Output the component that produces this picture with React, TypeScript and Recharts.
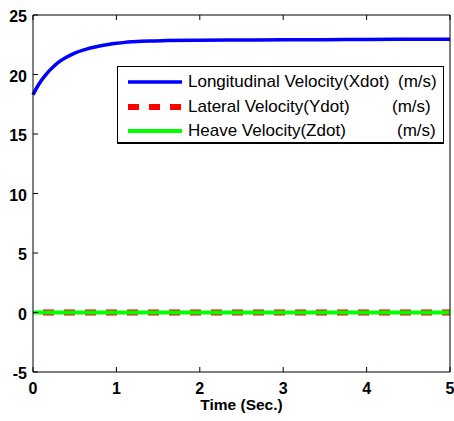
import React from 'react';
import { LineChart, Line, XAxis, YAxis, Legend } from 'recharts';

// ---- data ----
const TIME = [0, 0.05, 0.1, 0.15, 0.2, 0.25, 0.3, 0.4, 0.5, 0.6, 0.7, 0.8, 0.9, 1.0, 1.1, 1.2, 1.4, 1.6, 2.0, 2.5, 3.0, 3.5, 4.0, 4.5, 5.0];
const XDOT = [18.3, 18.95, 19.5, 19.95, 20.35, 20.7, 21.0, 21.45, 21.8, 22.05, 22.25, 22.4, 22.52, 22.62, 22.7, 22.75, 22.82, 22.85, 22.88, 22.9, 22.92, 22.93, 22.95, 22.96, 22.97];
const YDOT = [0, 0, 0, 0, 0, 0, 0, 0, 0, 0, 0, 0, 0, 0, 0, 0, 0, 0, 0, 0, 0, 0, 0, 0, 0];
const ZDOT = [0, 0, 0, 0, 0, 0, 0, 0, 0, 0, 0, 0, 0, 0, 0, 0, 0, 0, 0, 0, 0, 0, 0, 0, 0];
const X_TICKS = [0, 1, 2, 3, 4, 5];
const Y_TICKS = [-5, 0, 5, 10, 15, 20, 25];
const SERIES_NAMES = ['Longitudinal Velocity(Xdot)', 'Lateral Velocity(Ydot)', 'Heave Velocity(Zdot)'];
const SERIES_UNITS = ['(m/s)', '(m/s)', '(m/s)'];
const X_LABEL = 'Time (Sec.)';

const data = TIME.map((t, i) => ({ t, xdot: XDOT[i], ydot: YDOT[i], zdot: ZDOT[i] }));

// ---- styles ----
const STYLES = [
  { key: 'xdot', color: '#0000ff', width: 3.5, dash: undefined as string | undefined, offset: 0 },
  { key: 'ydot', color: '#ff0000', width: 6, dash: '11 10', offset: 11 },
  { key: 'zdot', color: '#00ff00', width: 4, dash: undefined as string | undefined, offset: 0 },
];
const UNIT_LEFT = [280, 274, 279];
const ROW_CENTER = [15, 39.5, 64];
const FONT = "'Liberation Sans', Arial, sans-serif";

const tickText = { fontFamily: FONT, fontSize: 16, fontWeight: 'bold' as const, fill: '#000' };

const BottomTick = (props: any) => {
  const { x, y, payload } = props;
  return (
    <g>
      <line x1={x} x2={x} y1={y} y2={y - 5} stroke="#000" />
      <text x={x} y={y + 22} textAnchor="middle" {...tickText}>{payload.value}</text>
    </g>
  );
};
const LeftTick = (props: any) => {
  const { x, y, payload } = props;
  return (
    <g>
      <line x1={x} x2={x + 5} y1={y} y2={y} stroke="#000" />
      <text x={x - 6} y={y + 7} textAnchor="end" {...tickText}>{payload.value}</text>
    </g>
  );
};
const TopTick = (props: any) => {
  const { x, y } = props;
  return <line x1={x} x2={x} y1={y} y2={y + 5} stroke="#000" />;
};
const RightTick = (props: any) => {
  const { x, y } = props;
  return <line x1={x} x2={x - 5} y1={y} y2={y} stroke="#000" />;
};

const renderLegend = (props: any) => {
  const payload = props.payload || [];
  return (
    <div style={{ position: 'relative', width: 327, height: 78, boxSizing: 'border-box', border: '1px solid #000', borderBottomWidth: 2, borderRightWidth: 1.5, background: '#fff', fontFamily: FONT }}>
      {STYLES.map((st, i) => {
        const entry = payload.find((p: any) => p.dataKey === st.key) || { color: st.color, value: SERIES_NAMES[i] };
        return (
          <React.Fragment key={st.key}>
            <svg style={{ position: 'absolute', left: 10, top: ROW_CENTER[i] - 5 }} width={54} height={10}>
              <line x1={0} x2={54} y1={5} y2={5} stroke={entry.color} strokeWidth={st.width} strokeDasharray={st.dash} />
            </svg>
            <div style={{ position: 'absolute', left: 70, top: ROW_CENTER[i] - 10, lineHeight: '20px', fontSize: 17, color: '#000', whiteSpace: 'nowrap' }}>{entry.value}</div>
            <div style={{ position: 'absolute', left: UNIT_LEFT[i], top: ROW_CENTER[i] - 10, lineHeight: '20px', fontSize: 17, color: '#000', whiteSpace: 'nowrap' }}>{SERIES_UNITS[i]}</div>
          </React.Fragment>
        );
      })}
    </div>
  );
};

export default function App() {
  return (
    <div style={{ position: 'absolute', left: 0, top: 0, width: 454, height: 421, background: '#fff', fontFamily: FONT }}>
      <LineChart width={454} height={421} data={data} margin={{ top: 14, right: 3, left: 0, bottom: 0 }}>
        <XAxis
          dataKey="t"
          type="number"
          domain={[0, 5]}
          ticks={X_TICKS}
          height={49}
          tickSize={0}
          tickMargin={0}
          tick={<BottomTick />}
          axisLine={{ stroke: '#000' }}
          tickLine={false}
          label={{ value: X_LABEL, position: 'insideBottom', offset: 11, style: { fontFamily: FONT, fontSize: 15.5, fontWeight: 'bold', fill: '#000' } }}
        />
        <XAxis
          xAxisId="top"
          orientation="top"
          dataKey="t"
          type="number"
          domain={[0, 5]}
          ticks={X_TICKS}
          height={1}
          tickSize={0}
          tickMargin={0}
          tick={<TopTick />}
          axisLine={{ stroke: '#000' }}
          tickLine={false}
        />
        <YAxis
          type="number"
          domain={[-5, 25]}
          ticks={Y_TICKS}
          width={33}
          tickSize={0}
          tickMargin={0}
          tick={<LeftTick />}
          axisLine={{ stroke: '#000' }}
          tickLine={false}
        />
        <YAxis
          yAxisId="right"
          orientation="right"
          type="number"
          domain={[-5, 25]}
          ticks={Y_TICKS}
          width={1}
          tickSize={0}
          tickMargin={0}
          tick={<RightTick />}
          axisLine={{ stroke: '#000' }}
          tickLine={false}
        />
        <Legend
          layout="vertical"
          align="center"
          verticalAlign="middle"
          wrapperStyle={{ position: 'absolute', left: 117, top: 66, width: 327, height: 78 }}
          content={renderLegend}
        />
        {STYLES.map((st, i) => (
          <Line
            key={st.key}
            type="monotone"
            dataKey={st.key}
            name={SERIES_NAMES[i]}
            stroke={st.color}
            strokeWidth={st.width}
            strokeDasharray={st.dash}
            strokeDashoffset={st.offset}
            dot={false}
            activeDot={false}
            isAnimationActive={false}
          />
        ))}
      </LineChart>
    </div>
  );
}
